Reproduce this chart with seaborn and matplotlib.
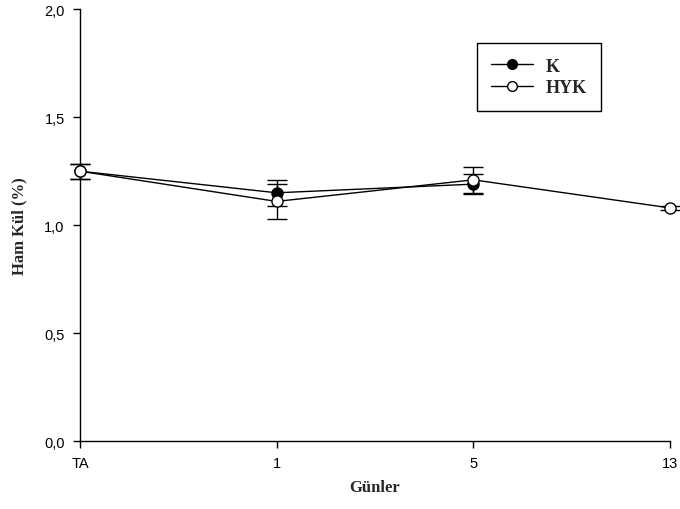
import numpy as np
import pandas as pd
import matplotlib
matplotlib.use("Agg")
import matplotlib.pyplot as plt
import seaborn as sns
from matplotlib.ticker import FuncFormatter
from matplotlib.lines import Line2D

days = ["TA", "1", "5", "13"]
k_values = [1.25, 1.15, 1.19, np.nan]
k_err = [0.035, 0.06, 0.045, np.nan]
hyk_values = [1.25, 1.11, 1.21, 1.08]
hyk_err = [0.035, 0.08, 0.06, 0.008]
y_ticks = [0.0, 0.5, 1.0, 1.5, 2.0]

sns.set_style("ticks")
plt.rcParams["font.family"] = ["Liberation Sans", "DejaVu Sans"]

fig = plt.figure(figsize=(6.8, 5.1), dpi=100)
ax = fig.add_axes([0.1176, 0.133, 0.8676, 0.847])

pos = np.arange(len(days))
df = pd.DataFrame({
    "x": np.concatenate([pos, pos]),
    "y": k_values + hyk_values,
    "s": ["K"] * len(days) + ["HYK"] * len(days),
})

for vals, errs in [(k_values, k_err), (hyk_values, hyk_err)]:
    eb = ax.errorbar(pos, vals, yerr=errs, fmt="none", ecolor="black", elinewidth=1.0,
                     capsize=7, capthick=1.0, zorder=2)
    for art in list(eb.lines[1]) + list(eb.lines[2]):
        art.set_clip_on(False)

sns.lineplot(data=df, x="x", y="y", hue="s", style="s",
             palette={"K": "black", "HYK": "black"},
             markers={"K": "o", "HYK": "o"}, dashes=False,
             linewidth=1.0, markersize=8, ax=ax, legend=False, zorder=3)
lines = ax.get_lines()
k_line, hyk_line = lines[-2], lines[-1]
k_line.set_markerfacecolor("black"); k_line.set_markeredgecolor("black")
hyk_line.set_markerfacecolor("white"); hyk_line.set_markeredgecolor("black")
for ln in (k_line, hyk_line):
    ln.set_markeredgewidth(1.0)
    ln.set_clip_on(False)

ax.set_xlim(0, 3)
ax.set_ylim(0, 2.0)
ax.set_xticks(pos)
ax.set_xticklabels(days)
ax.set_yticks(y_ticks)
ax.yaxis.set_major_formatter(FuncFormatter(lambda v, p: f"{v:.1f}".replace(".", ",")))
ax.tick_params(axis="both", direction="out", length=5, width=1, labelsize=10.5, colors="black", pad=6)
for sp in ["top", "right"]:
    ax.spines[sp].set_visible(False)
for sp in ["left", "bottom"]:
    ax.spines[sp].set_linewidth(1.0)
    ax.spines[sp].set_color("black")

serif = ["Liberation Serif", "DejaVu Serif"]
ax.set_xlabel("Günler", fontsize=12, fontweight="bold", family=serif, labelpad=6)
ax.set_ylabel("Ham Kül (%)", fontsize=12, fontweight="bold", family=serif, labelpad=12)

handles = [
    Line2D([], [], color="black", lw=1.0, marker="o", markersize=7, markerfacecolor="black", markeredgecolor="black"),
    Line2D([], [], color="black", lw=1.0, marker="o", markersize=7, markerfacecolor="white", markeredgecolor="black"),
]
leg = ax.legend(handles, ["K", "HYK"], loc="upper left", bbox_to_anchor=(0.673, 0.921),
                frameon=True, fancybox=False, edgecolor="black", framealpha=1,
                prop={"family": serif, "weight": "bold", "size": 13},
                handlelength=2.3, borderpad=0.8, labelspacing=0.25, handletextpad=0.7, borderaxespad=0)
leg.get_frame().set_linewidth(1.0)

fig.savefig("out.png", dpi=100)
